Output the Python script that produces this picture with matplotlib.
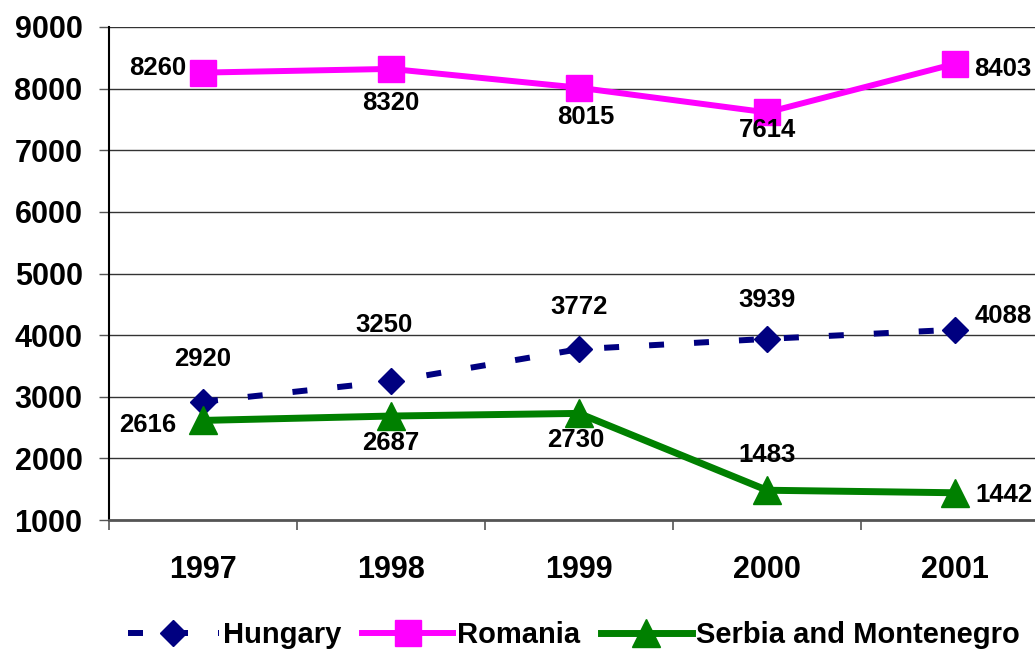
import matplotlib
matplotlib.use("Agg")
import matplotlib.pyplot as plt
from matplotlib.ticker import FixedLocator, NullFormatter

years = ["1997", "1998", "1999", "2000", "2001"]
hungary = [2920, 3250, 3772, 3939, 4088]
romania = [8260, 8320, 8015, 7614, 8403]
serbia = [2616, 2687, 2730, 1483, 1442]
y_ticks = [1000, 2000, 3000, 4000, 5000, 6000, 7000, 8000, 9000]

# label offsets in pixels (dx, dy), positive dy is up
hun_off = [(0, 43), (-7, 56), (0, 42), (0, 39), (48, 14)]
rom_off = [(-45, 5), (0, -34), (7, -29), (0, -18), (48, -5)]
ser_off = [(-55, -5), (0, -27), (-3, -27), (0, 35), (49, -2)]

plt.rcParams['font.family'] = ['Liberation Sans', 'DejaVu Sans']
plt.rcParams['font.weight'] = 'bold'
plt.rcParams['lines.scale_dashes'] = False

fig = plt.figure(figsize=(10.35, 6.53), dpi=100)
ax = fig.add_axes([109/1035, 1 - 520/653, (1049-109)/1035, (520-27)/653])

x = list(range(len(years)))
l1, = ax.plot(x, hungary, color='#000080', lw=4.3, dashes=(10.8, 21.6),
              marker='D', ms=13.5, mec='#000080', mfc='#000080',
              label='Hungary', clip_on=False, zorder=3)
l2, = ax.plot(x, romania, color='#FF00FF', lw=4.3,
              marker='s', ms=19.4, mec='#FF00FF', mfc='#FF00FF',
              label='Romania', clip_on=False, zorder=3)
l3, = ax.plot(x, serbia, color='#008000', lw=5.0,
              marker='^', ms=19.5, mec='#008000', mfc='#008000',
              label='Serbia and Montenegro', clip_on=False, zorder=3)

for vals, offs in ((hungary, hun_off), (romania, rom_off), (serbia, ser_off)):
    for i, (v, (dx, dy)) in enumerate(zip(vals, offs)):
        ax.annotate(str(v), (i, v), xytext=(dx, dy), textcoords='offset pixels',
                    ha='center', va='center', fontsize=18.5, fontweight='bold',
                    color='black', annotation_clip=False, zorder=4)

ax.set_xlim(-0.5, 4.5)
ax.set_ylim(1000, 9000)
ax.set_yticks(y_ticks)
ax.set_yticklabels([str(t) for t in y_ticks], fontsize=22, fontweight='bold')
ax.set_xticks(x)
ax.set_xticklabels(years, fontsize=22, fontweight='bold')
ax.xaxis.set_minor_locator(FixedLocator([i - 0.5 for i in range(len(years) + 1)]))
ax.xaxis.set_minor_formatter(NullFormatter())
ax.tick_params(axis='x', which='major', length=0, pad=25)
ax.tick_params(axis='x', which='minor', length=7, width=1.2, color='#555555', direction='out')
ax.tick_params(axis='y', length=7, width=1.0, color='#555555', pad=12, direction='out')

ax.grid(axis='y', color='#333333', lw=1.0)
ax.set_axisbelow(True)
for s in ('top', 'right'):
    ax.spines[s].set_visible(False)
ax.spines['left'].set_color('black')
ax.spines['left'].set_linewidth(1.5)
ax.spines['bottom'].set_color('#555555')
ax.spines['bottom'].set_linewidth(2.0)

leg = fig.legend(handles=[l1, l2, l3], loc='center', bbox_to_anchor=(574/1035, 18/653),
                 ncol=3, frameon=False, prop={'size': 21, 'weight': 'bold'},
                 handlelength=3.1, handletextpad=0.15, columnspacing=0.72,
                 borderpad=0, borderaxespad=0)

fig.savefig('out.png', dpi=100)
